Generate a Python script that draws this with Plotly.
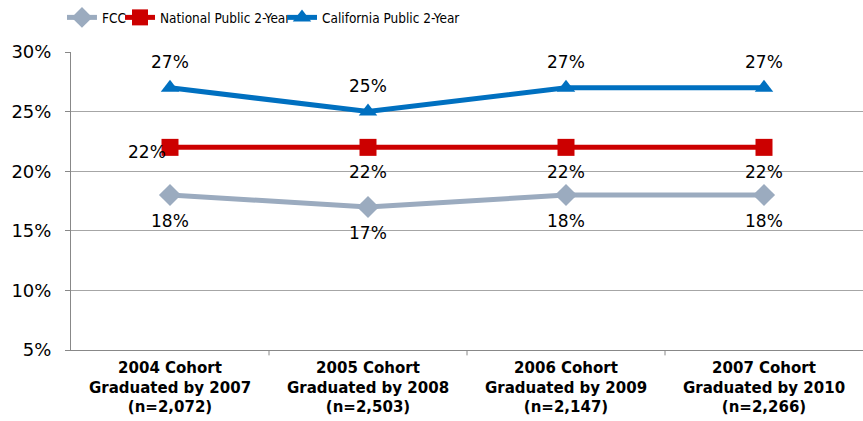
import plotly.graph_objects as go

categories = ["2004 Cohort<br>Graduated by 2007<br>(n=2,072)",
              "2005 Cohort<br>Graduated by 2008<br>(n=2,503)",
              "2006 Cohort<br>Graduated by 2009<br>(n=2,147)",
              "2007 Cohort<br>Graduated by 2010<br>(n=2,266)"]
fcc = [18, 17, 18, 18]
national = [22, 22, 22, 22]
california = [27, 25, 27, 27]
y_ticks = [5, 10, 15, 20, 25, 30]

FONT = "DejaVu Sans, Verdana, sans-serif"
LEG_FONT = dict(family="DejaVu Sans Condensed, Liberation Sans Narrow, sans-serif", size=13.5, color="#000")
x_idx = list(range(len(categories)))

fig = go.Figure()
fig.add_trace(go.Scatter(x=x_idx, y=fcc, name="FCC", mode="lines+markers", legend="legend",
                         line=dict(color="#9BABBF", width=5),
                         marker=dict(symbol="diamond", size=17, color="#9BABBF")))
fig.add_trace(go.Scatter(x=x_idx, y=national, name="National Public 2-Year", mode="lines+markers",
                         legend="legend2",
                         line=dict(color="#CC0000", width=5),
                         marker=dict(symbol="square", size=17, color="#CC0000")))
fig.add_trace(go.Scatter(x=x_idx, y=california, name="California Public 2-Year", mode="lines+markers",
                         legend="legend3",
                         line=dict(color="#0070C0", width=5),
                         marker=dict(symbol="triangle-up", size=16, color="#0070C0")))

annotations = []
for i, v in enumerate(california):
    annotations.append(dict(x=i, y=v, text=f"{v}%", showarrow=False, yshift=26))
for i, v in enumerate(fcc):
    annotations.append(dict(x=i, y=v, text=f"{v}%", showarrow=False, yshift=-26))
for i, v in enumerate(national):
    if i == 0:
        annotations.append(dict(x=i, y=v, text=f"{v}%", showarrow=False, xshift=-23, yshift=-5))
    else:
        annotations.append(dict(x=i, y=v, text=f"{v}%", showarrow=False, yshift=-25))
for a in annotations:
    a["font"] = dict(family=FONT, size=17, color="#000000")

def leg(xpos):
    return dict(orientation="h", x=xpos, xanchor="left", yref="container", y=0.995, yanchor="top",
                font=LEG_FONT, itemwidth=30, bgcolor="rgba(0,0,0,0)")

fig.update_layout(
    width=863, height=421,
    margin=dict(l=71, r=0, t=52, b=71, autoexpand=False),
    paper_bgcolor="white", plot_bgcolor="white",
    showlegend=True,
    legend=leg(-0.0114), legend2=leg(0.0619), legend3=leg(0.2664),
    annotations=annotations,
    font=dict(family=FONT, color="#000"),
)
fig.update_xaxes(range=[-0.5, 3.5], tickmode="array", tickvals=x_idx,
                 ticktext=[f"<b>{c}</b>".replace("<br>", "</b><br><b>") for c in categories],
                 showgrid=False, showline=True, linecolor="#888888", linewidth=1,
                 tickfont=dict(family=FONT, size=15, color="#000"), ticklabelstandoff=4,
                 ticks="", zeroline=False, automargin=False)
fig.update_yaxes(range=[5, 30], tickmode="array", tickvals=y_ticks,
                 ticktext=[f"{t}%" for t in y_ticks],
                 showgrid=True, gridcolor="#A6A6A6", gridwidth=1,
                 showline=True, linecolor="#888888", linewidth=1,
                 ticks="outside", ticklen=5, tickcolor="#888888", ticklabelstandoff=10,
                 tickfont=dict(family=FONT, size=18, color="#000"), zeroline=False, automargin=False)

# category boundary tick marks on x-axis
for b in [0.5, 1.5, 2.5]:
    fig.add_shape(type="line", xref="x", yref="paper", x0=b, x1=b, y0=0, y1=-0.018,
                  line=dict(color="#888888", width=1))

fig.write_html("out.html", config={"displayModeBar": False},
               post_script="document.body.style.margin='0';")
